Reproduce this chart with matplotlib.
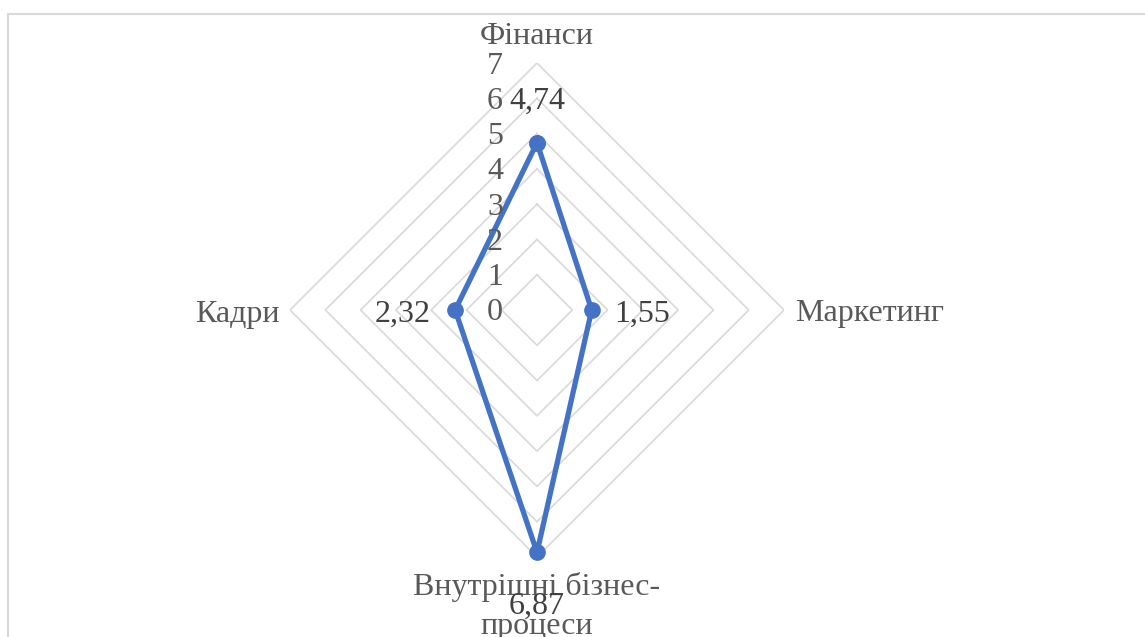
import numpy as np
import matplotlib
matplotlib.use("Agg")
import matplotlib.pyplot as plt
from matplotlib.patches import Rectangle

categories = ["Фінанси", "Маркетинг", "Внутрішні бізнес-\nпроцеси", "Кадри"]
values = [4.74, 1.55, 6.87, 2.32]
value_labels = ["4,74", "1,55", "6,87", "2,32"]
ticks = [0, 1, 2, 3, 4, 5, 6, 7]

plt.rcParams['font.family'] = ['Liberation Serif', 'DejaVu Serif']

W, H = 1145, 637
fig = plt.figure(figsize=(W / 100, H / 100), dpi=100)

cx, cy, R = 537, 310, 247
ax = fig.add_axes([(cx - R) / W, 1 - (cy + R) / H, 2 * R / W, 2 * R / H], projection='polar')
ax.set_theta_zero_location('N')
ax.set_theta_direction(-1)
ax.set_ylim(0, 7)
ax.grid(False)
ax.set_xticks([])
ax.set_yticks([])
ax.spines['polar'].set_visible(False)
ax.patch.set_visible(False)

n = len(categories)
theta = np.arange(n) * 2 * np.pi / n
theta_c = np.append(theta, theta[0])

for t in ticks[1:]:
    ax.plot(theta_c, [t] * (n + 1), color='#d9d9d9', lw=1.2, zorder=1)

vals_c = np.append(values, values[0])
ax.plot(theta_c, vals_c, color='#4472C4', lw=3.8, marker='o', markersize=11,
        zorder=3, clip_on=False)

fs = 23
# tick labels
for t in ticks:
    ax.annotate(str(t), xy=(0, t), xytext=(-34, -3), textcoords='offset pixels',
                ha='right', va='center', fontsize=fs, color='#595959',
                annotation_clip=False)

# category labels
cat_offsets = [(0, 27, 'center', 'center'), (11, -4, 'left', 'center'),
               (0, -15, 'center', 'top'), (-10, -4, 'right', 'center')]
for th, lab, (dx, dy, ha, va) in zip(theta, categories, cat_offsets):
    ax.annotate(lab, xy=(th, 7), xytext=(dx, dy), textcoords='offset pixels',
                ha=ha, va=va, fontsize=fs, color='#595959', linespacing=1.45,
                annotation_clip=False)

# data labels
lab_offsets = [(0, 41, 'center', 'center'), (23, -4, 'left', 'center'),
               (0, -54, 'center', 'center'), (-25, -4, 'right', 'center')]
for th, v, lab, (dx, dy, ha, va) in zip(theta, values, value_labels, lab_offsets):
    ax.annotate(lab, xy=(th, v), xytext=(dx, dy), textcoords='offset pixels',
                ha=ha, va=va, fontsize=fs, color='#404040', zorder=4,
                annotation_clip=False)

fig.patches.append(Rectangle((8 / W, -0.1), 1.2, 1.1 - 14 / H, transform=fig.transFigure,
                             fill=False, edgecolor='#d9d9d9', lw=1.5))

fig.savefig('out.png', dpi=100)
